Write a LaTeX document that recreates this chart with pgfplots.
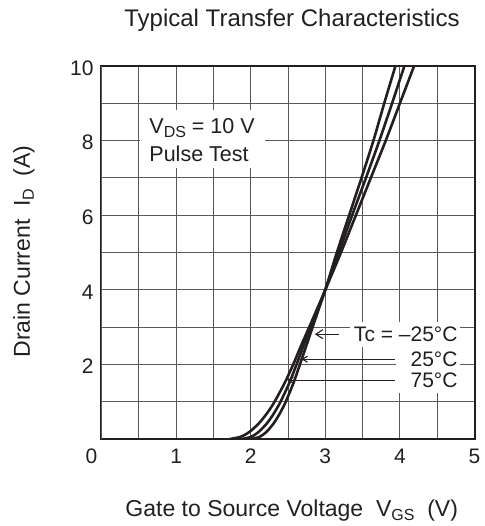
\documentclass[border=0pt]{standalone}
\usepackage{fontspec}
\setmainfont{Liberation Sans}
\usepackage{pgfplots}
\pgfplotsset{compat=1.18}
\usetikzlibrary{arrows.meta}
\definecolor{txt}{HTML}{231F20}
\newcommand{\sub}[1]{\raisebox{-4bp}{\fontsize{16bp}{16bp}\selectfont #1}}
\newcommand{\fs}[1]{\fontsize{#1}{#1}\selectfont}
\begin{document}
\begin{tikzpicture}
\begin{axis}[
  at={(0,0)}, anchor=south west,
  scale only axis, width=373bp, height=373bp,
  xmin=0, xmax=5, ymin=0, ymax=10,
  xtick={1,2,3,4,5}, ytick={2,4,6,8,10},
  extra x ticks={0},
  extra x tick style={tick label style={xshift=-10bp}},
  minor xtick={0.5,1.5,2.5,3.5,4.5},
  minor ytick={1,3,5,7,9},
  grid=both,
  major grid style={black!65, line width=1bp},
  minor grid style={black!65, line width=1bp},
  major tick length=0pt, minor tick length=0pt,
  axis line style={line width=2bp, txt},
  /pgf/number format/assume math mode=true,
  tick label style={font=\fs{21bp}, text=txt},
  xticklabel style={yshift=-6.5bp},
  yticklabel style={xshift=-4.5bp, yshift=-2bp},
  title={Typical Transfer Characteristics},
  title style={at={(axis description cs:0.5107,1.1054)}, anchor=base, yshift=-6pt, font=\fs{24bp}, text=txt},
  xlabel={Gate to Source Voltage\ \ V\sub{GS}\ \ (V)},
  xlabel style={at={(axis description cs:0.5099,-0.2091)}, anchor=base, font=\fs{23bp}, text=txt},
  ylabel={Drain Current\ \ I\sub{D}\ \ (A)},
  ylabel style={at={(axis description cs:-0.1917,0.5027)}, anchor=base, rotate=0, font=\fs{23bp}, text=txt},
]
% 75 C
\addplot[line width=2.6bp, txt, smooth] coordinates {
(1.72,0) (1.854,0.05) (1.91,0.1) (1.99,0.2) (2.10,0.4) (2.185,0.6) (2.257,0.8) (2.32,1.0) (2.455,1.5) (2.57,2.0) (2.675,2.5) (2.785,3.0) (2.893,3.5) (3.0,4.0) (3.21,5) (3.41,6) (3.61,7) (3.81,8) (4.00,9) (4.19,10) (4.23,10.2)};
% 25 C
\addplot[line width=2.6bp, txt, smooth] coordinates {
(1.88,0) (1.996,0.05) (2.044,0.1) (2.112,0.2) (2.209,0.4) (2.283,0.6) (2.345,0.8) (2.40,1.0) (2.517,1.5) (2.615,2.0) (2.708,2.5) (2.805,3.0) (2.903,3.5) (3.0,4.0) (3.18,5) (3.36,6) (3.545,7) (3.725,8) (3.895,9) (4.06,10) (4.095,10.2)};
% -25 C
\addplot[line width=2.6bp, txt, smooth] coordinates {
(2.01,0) (2.113,0.05) (2.155,0.1) (2.216,0.2) (2.301,0.4) (2.366,0.6) (2.421,0.8) (2.47,1.0) (2.573,1.5) (2.66,2.0) (2.745,2.5) (2.83,3.0) (2.915,3.5) (3.0,4.0) (3.155,5) (3.32,6) (3.485,7) (3.645,8) (3.79,9) (3.94,10) (3.97,10.2)};
% white boxes behind annotations
\fill[white] (axis cs:0.515,7.26) rectangle (axis cs:2.19,8.82);
\fill[white] (axis cs:3.33,2.47) rectangle (axis cs:4.81,3.13);
\fill[white] (axis cs:3.95,1.22) rectangle (axis cs:4.81,2.47);
\node[anchor=base west, inner sep=0, font=\fs{21.5bp}, text=txt] at (axis cs:0.64,8.18) {V\sub{DS} = 10 V};
\node[anchor=base west, inner sep=0, font=\fs{21.5bp}, text=txt] at (axis cs:0.64,7.43) {Pulse Test};
\node[anchor=base east, inner sep=0, font=\fs{21bp}, text=txt] at (axis cs:4.775,2.61) {Tc = –25°C};
\node[anchor=base east, inner sep=0, font=\fs{21bp}, text=txt] at (axis cs:4.775,1.94) {25°C};
\node[anchor=base east, inner sep=0, font=\fs{21bp}, text=txt] at (axis cs:4.775,1.375) {75°C};
\draw[line width=1.1bp, txt, -{Straight Barb[length=7bp,width=9bp]}] (axis cs:3.19,2.81) -- (axis cs:2.86,2.81);
\draw[line width=1.1bp, txt, -{Straight Barb[length=5bp,width=6bp]}] (axis cs:3.93,2.14) -- (axis cs:2.68,2.14);
\draw[line width=1.1bp, txt, -{Straight Barb[length=5bp,width=6bp]}] (axis cs:3.93,1.58) -- (axis cs:2.49,1.58);
\end{axis}
\pgfresetboundingbox
\path[use as bounding box] (-101.5bp,-87bp) rectangle (383.5bp,439bp);
\end{tikzpicture}
\end{document}
